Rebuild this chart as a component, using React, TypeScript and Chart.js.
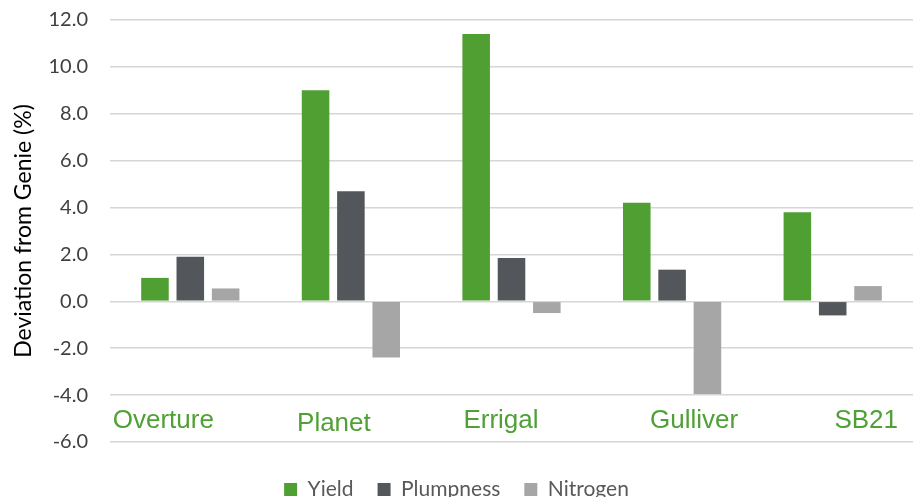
import React, { useEffect, useRef } from "react";
import { Chart, registerables } from "chart.js";

Chart.register(...registerables);

// ---- data ----
const categories = ["Overture", "Planet", "Errigal", "Gulliver", "SB21"];
const seriesNames = ["Yield", "Plumpness", "Nitrogen"];
const yieldValues = [1.0, 9.0, 11.4, 4.2, 3.8];
const plumpnessValues = [1.9, 4.7, 1.85, 1.35, -0.6];
const nitrogenValues = [0.55, -2.4, -0.5, -3.95, 0.65];
const yMin = -6;
const yMax = 12;
const yStep = 2;
const axisTitle = "Deviation from Genie (%)";

// ---- styling / layout ----
const GREEN = "#509f32";
const DARK = "#53565a";
const LIGHT = "#a6a6a6";
const LABEL_GREEN = "#4fa035";
// in-plot category label placement (pixel offset from category centre, baseline in axis units)
const labelOffsetX = [-27, -17, -10.5, 22, 33.5];
const labelBaseline = [-5.4, -5.55, -5.4, -5.4, -5.4];

const categoryLabelPlugin = {
  id: "categoryLabels",
  afterDatasetsDraw(chart: any) {
    const { ctx } = chart;
    const x = chart.scales.x;
    const y = chart.scales.y;
    ctx.save();
    ctx.font = "26px 'Liberation Sans', Arial, sans-serif";
    ctx.fillStyle = LABEL_GREEN;
    ctx.textAlign = "center";
    ctx.textBaseline = "alphabetic";
    categories.forEach((c, i) => {
      ctx.fillText(
        c,
        x.getPixelForValue(i) + labelOffsetX[i],
        y.getPixelForValue(labelBaseline[i])
      );
    });
    ctx.restore();
  },
};

export default function App() {
  const ref = useRef<HTMLCanvasElement | null>(null);

  useEffect(() => {
    if (!ref.current) return;
    const chart = new Chart(ref.current, {
      type: "bar",
      data: {
        labels: categories,
        datasets: [
          { label: seriesNames[0], data: yieldValues, backgroundColor: GREEN },
          { label: seriesNames[1], data: plumpnessValues, backgroundColor: DARK },
          { label: seriesNames[2], data: nitrogenValues, backgroundColor: LIGHT },
        ],
      },
      options: {
        responsive: false,
        animation: false,
        devicePixelRatio: 1,
        layout: { padding: { left: 0, right: 0, top: 20, bottom: 0 } },
        datasets: {
          bar: { categoryPercentage: 0.66, barPercentage: 0.78, borderWidth: 0 },
        },
        plugins: {
          tooltip: { enabled: false },
          legend: {
            position: "bottom",
            labels: {
              boxWidth: 13,
              boxHeight: 13,
              padding: 24,
              color: "#595959",
              font: { family: "Lato, 'Open Sans', sans-serif", size: 21 },
            },
          },
        },
        scales: {
          x: {
            type: "category",
            grid: { display: false },
            border: { display: false },
            ticks: { display: false },
            afterFit: (s: any) => {
              s.height = 13;
            },
          },
          y: {
            min: yMin,
            max: yMax,
            ticks: {
              stepSize: yStep,
              padding: 4,
              color: "#404040",
              font: { family: "Lato, 'Open Sans', sans-serif", size: 20 },
              callback: (v: any) => Number(v).toFixed(1),
            },
            grid: {
              color: "#d6d6d6",
              lineWidth: 1.5,
              drawTicks: true,
              tickLength: 18,
              tickColor: "rgba(0,0,0,0)",
            },
            border: { display: false },
            title: {
              display: true,
              text: axisTitle,
              color: "#000000",
              padding: { top: 10, bottom: 0 },
              font: { family: "Lato, 'Open Sans', sans-serif", size: 23 },
            },
            afterFit: (s: any) => {
              s.width = 110;
            },
          },
        },
      },
      plugins: [categoryLabelPlugin],
    });
    return () => chart.destroy();
  }, []);

  return (
    <div
      style={{
        position: "fixed",
        left: 0,
        top: 0,
        width: 913,
        height: 497,
        overflow: "hidden",
        background: "#ffffff",
      }}
    >
      <canvas ref={ref} width={913} height={510} style={{ display: "block" }} />
    </div>
  );
}
